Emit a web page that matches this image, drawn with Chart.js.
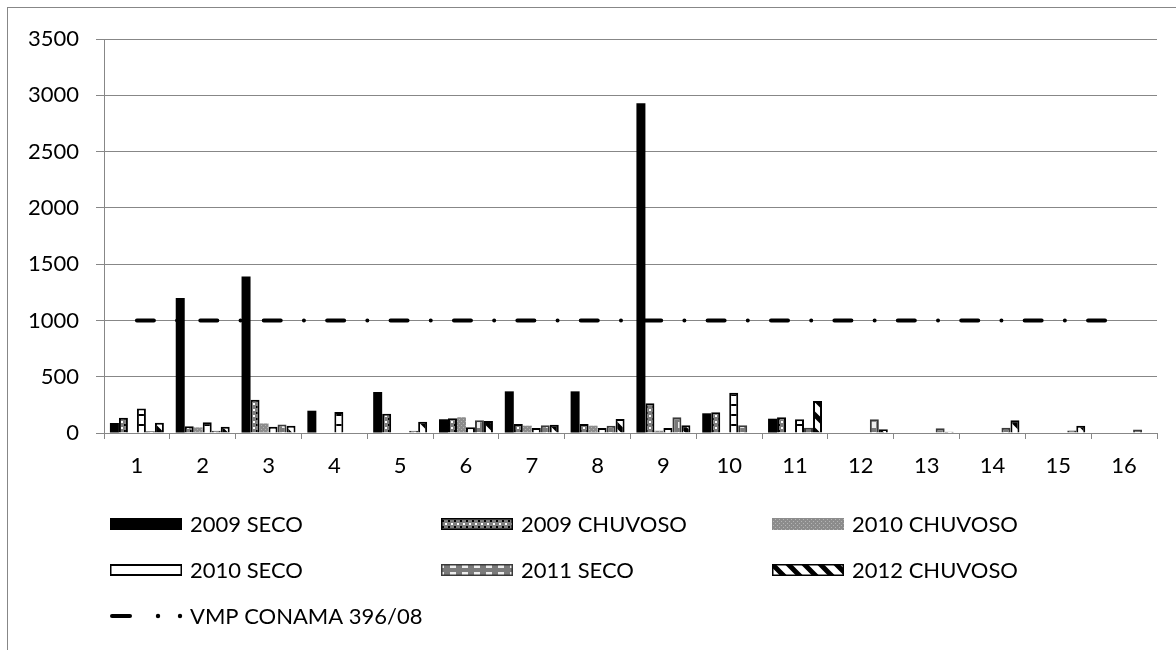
<!DOCTYPE html>
<html>
<head>
<meta charset="utf-8">
<title>Pontos de coleta</title>
<script src="https://cdn.jsdelivr.net/npm/chart.js@4/dist/chart.umd.min.js"></script>
<style>
  html, body { margin: 0; padding: 0; background: #ffffff; }
  #wrap { width: 1176px; height: 650px; position: relative; }
</style>
</head>
<body>
<div id="wrap"><canvas id="chart" width="1176" height="650"></canvas></div>
<script>
// sampling points and measured values per campaign
const points = ['1', '2', '3', '4', '5', '6', '7', '8', '9', '10', '11', '12', '13', '14', '15', '16'];
const seco2009 = [89, 1200, 1390, 198, 364, 122, 370, 370, 2930, 175, 127, 0, 0, 0, 0, 0];
const chuvoso2009 = [136, 60, 295, 0, 171, 130, 80, 80, 264, 184, 140, 0, 0, 0, 0, 0];
const chuvoso2010 = [0, 50, 85, 0, 0, 140, 65, 65, 20, 0, 0, 0, 0, 0, 0, 0];
const seco2010 = [218, 95, 55, 187, 5, 50, 45, 45, 45, 358, 122, 0, 0, 0, 0, 0];
const seco2011 = [15, 20, 75, 0, 20, 113, 68, 65, 140, 68, 47, 122, 42, 47, 22, 30];
const chuvoso2012 = [90, 55, 65, 0, 100, 107, 74, 124, 68, 0, 284, 33, 12, 113, 65, 0];
const vmpConama = [1000, 1000, 1000, 1000, 1000, 1000, 1000, 1000, 1000, 1000, 1000, 1000, 1000, 1000, 1000, 1000];
const yTicks = [0, 500, 1000, 1500, 2000, 2500, 3000, 3500];

const canvas = document.getElementById('chart');
const ctx = canvas.getContext('2d');
const FONT = 'Lato, "Open Sans", sans-serif';
const GRID = '#878787';

function makePattern(w, h, draw) {
    const tile = document.createElement('canvas');
    tile.width = w;
    tile.height = h;
    draw(tile.getContext('2d'), w, h);
    return ctx.createPattern(tile, 'repeat');
}

const dotsDark = makePattern(6, 6, (g) => {
    g.fillStyle = '#7e7e7e'; g.fillRect(0, 0, 6, 6);
    g.fillStyle = '#ffffff'; g.fillRect(1, 1, 2, 2);
    g.fillStyle = '#000000'; g.fillRect(4, 4, 2, 2);
});
const dotsGray = makePattern(4, 4, (g) => {
    g.fillStyle = '#8c8c8c'; g.fillRect(0, 0, 4, 4);
    g.fillStyle = '#b4b4b4'; g.fillRect(1, 1, 1, 1); g.fillRect(3, 3, 1, 1);
});
const hLines = makePattern(4, 10, (g) => {
    g.fillStyle = '#ffffff'; g.fillRect(0, 0, 4, 10);
    g.fillStyle = '#000000'; g.fillRect(0, 4, 4, 2);
});
const checker = makePattern(12, 10, (g) => {
    g.fillStyle = '#7a7a7a'; g.fillRect(0, 0, 12, 10);
    g.fillStyle = '#eeeeee'; g.fillRect(6, 2, 6, 6);
});
const diagonal = makePattern(16, 16, (g) => {
    g.fillStyle = '#ffffff'; g.fillRect(0, 0, 16, 16);
    g.strokeStyle = '#000000'; g.lineWidth = 5;
    g.beginPath();
    g.moveTo(-4, -4); g.lineTo(20, 20);
    g.moveTo(-4, 12); g.lineTo(4, 20);
    g.moveTo(12, -4); g.lineTo(20, 4);
    g.stroke();
});

function barSet(label, data, fill, border, width) {
    return {
        type: 'bar',
        label: label,
        data: data,
        backgroundColor: fill,
        borderColor: border,
        borderWidth: width,
        borderSkipped: 'bottom',
        categoryPercentage: 0.82,
        barPercentage: 1.0,
        order: 2
    };
}

// legend laid out in three columns like the spreadsheet original
const legendLayout = {
    cols: [110, 441, 772],
    rows: [524, 570, 616],
    markW: 72,
    markH: 12,
    textGap: 8
};

const tableLegend = {
    id: 'tableLegend',
    beforeDraw(chart) {
        const c = chart.ctx;
        c.save();
        c.strokeStyle = GRID;
        c.lineWidth = 1;
        c.strokeRect(7.5, 7.5, 1300, 800);
        c.restore();
    },
    afterDraw(chart) {
        const c = chart.ctx;
        const L = legendLayout;
        c.save();
        c.font = '22px ' + FONT;
        c.fillStyle = '#000000';
        c.textBaseline = 'middle';
        chart.data.datasets.forEach((ds, i) => {
            const col = L.cols[i % 3];
            const row = L.rows[Math.floor(i / 3)];
            if (ds.type === 'bar') {
                const top = row - L.markH / 2;
                c.fillStyle = ds.backgroundColor;
                c.fillRect(col, top, L.markW, L.markH);
                if (ds.borderWidth > 0) {
                    c.strokeStyle = ds.borderColor;
                    c.lineWidth = 1.5;
                    c.strokeRect(col + 0.75, top + 0.75, L.markW - 1.5, L.markH - 1.5);
                }
            } else {
                c.strokeStyle = ds.borderColor;
                c.lineWidth = 4;
                c.lineCap = 'round';
                c.beginPath();
                c.moveTo(col + 2, row); c.lineTo(col + 20, row);
                c.stroke();
                c.fillStyle = ds.borderColor;
                [col + 48, col + 70].forEach((x) => {
                    c.beginPath(); c.arc(x, row, 2.2, 0, Math.PI * 2); c.fill();
                });
            }
            c.fillStyle = '#000000';
            c.fillText(ds.label, col + L.markW + L.textGap, row + 1);
        });
        c.restore();
    }
};

new Chart(ctx, {
    data: {
        labels: points,
        datasets: [
            barSet('2009 SECO', seco2009, '#000000', '#000000', 0),
            barSet('2009 CHUVOSO', chuvoso2009, dotsDark, '#000000', 2),
            barSet('2010 CHUVOSO', chuvoso2010, dotsGray, '#8c8c8c', 0),
            barSet('2010 SECO', seco2010, hLines, '#000000', 2),
            barSet('2011 SECO', seco2011, checker, '#3a3a3a', 2),
            barSet('2012 CHUVOSO', chuvoso2012, diagonal, '#000000', 2),
            {
                type: 'line',
                label: 'VMP CONAMA 396/08',
                data: vmpConama,
                borderColor: '#000000',
                borderWidth: 4,
                borderCapStyle: 'round',
                borderDash: [17, 23.2, 0.01, 23.2],
                pointRadius: 0,
                fill: false,
                tension: 0,
                order: 1
            }
        ]
    },
    options: {
        responsive: false,
        animation: false,
        events: [],
        layout: { padding: { left: 0, top: 39, right: 19, bottom: 0 } },
        plugins: {
            legend: { display: false },
            tooltip: { enabled: false }
        },
        scales: {
            x: {
                afterFit(scale) { scale.height = 217; },
                grid: {
                    offset: true,
                    drawOnChartArea: false,
                    drawTicks: true,
                    tickLength: 6,
                    color: GRID
                },
                border: { display: true, color: GRID, width: 1 },
                ticks: {
                    color: '#000000',
                    padding: 14,
                    maxRotation: 0,
                    font: { family: FONT, size: 22 }
                }
            },
            y: {
                min: 0,
                max: 3500,
                afterFit(scale) { scale.width = 104; },
                afterBuildTicks(scale) { scale.ticks = yTicks.map((v) => ({ value: v })); },
                grid: {
                    color: GRID,
                    drawTicks: true,
                    tickLength: 8,
                    tickColor: GRID
                },
                border: { display: true, color: GRID, width: 1 },
                ticks: {
                    color: '#000000',
                    padding: 17,
                    font: { family: FONT, size: 22 },
                    callback: (value) => String(value)
                }
            }
        }
    },
    plugins: [tableLegend]
});
</script>
</body>
</html>
